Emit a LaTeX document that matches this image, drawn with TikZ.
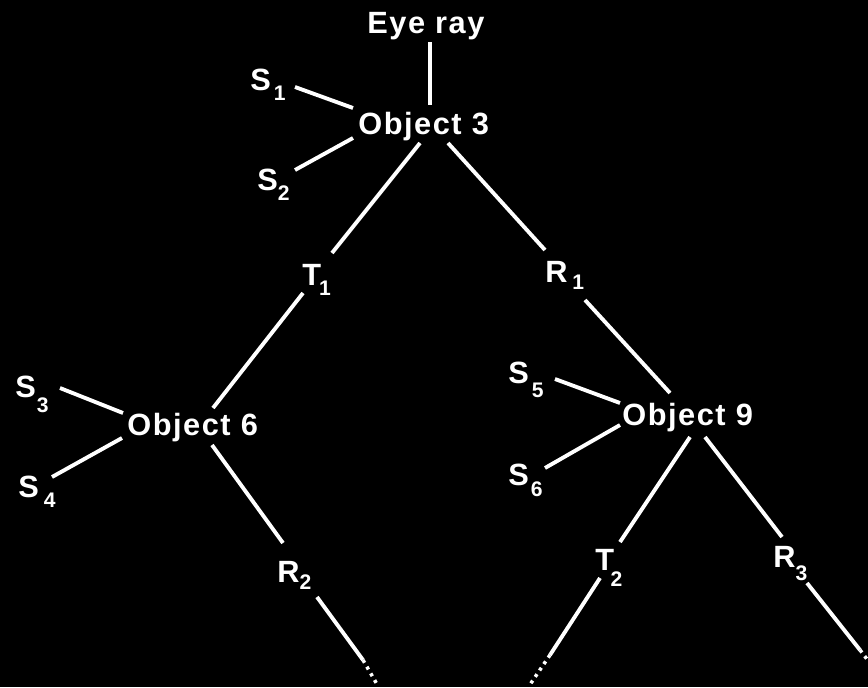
\documentclass[tikz,border=0pt]{standalone}
\usepackage{fontspec}
\newfontfamily\labfam{Liberation Sans}[LetterSpace=5]
\newcommand\subfont{\labfam\bfseries\fontsize{12}{14}\selectfont}
\newcommand\sbx[3]{\kern#1\raisebox{-#2}{\subfont #3}}
\begin{document}
\begin{tikzpicture}[x=0.02cm,y=-0.02cm,
  lab/.style={text=white, inner sep=0pt, anchor=base west,
    font=\labfam\bfseries\fontsize{17.5}{20}\selectfont},
  wire/.style={draw=white, line width=2.2pt},
  tail/.style={draw=white, line width=2pt, dash pattern=on 1.8pt off 2.6pt}]
\fill[black] (0,0) rectangle (868,687);
\useasboundingbox (0,0) rectangle (868,687);
% nodes
\node[lab] (eye) at (367,33) {Eye ray};
\node[lab] (obj3) at (358,134) {Object 3};
\node[lab] (obj6) at (127,435) {Object 6};
\node[lab] (obj9) at (622,425) {Object 9};
\node[lab] (s1) at (250,90) {S\sbx{1.7pt}{5.7pt}{1}};
\node[lab] (s2) at (257,190) {S\sbx{0pt}{5.7pt}{2}};
\node[lab] (s3) at (15,397) {S\sbx{0.6pt}{9pt}{3}};
\node[lab] (s4) at (18,497) {S\sbx{2.8pt}{6.2pt}{4}};
\node[lab] (s5) at (508,383) {S\sbx{1.7pt}{8pt}{5}};
\node[lab] (s6) at (508,485) {S\sbx{1.1pt}{6.8pt}{6}};
\node[lab] (t1) at (302,285) {T\sbx{-1.1pt}{5.7pt}{1}};
\node[lab] (r1) at (545,282) {R\sbx{2.8pt}{4.5pt}{1}};
\node[lab] (r2) at (277,582) {R\sbx{0pt}{4.5pt}{2}};
\node[lab] (t2) at (595,570) {T\sbx{-2pt}{9.5pt}{2}};
\node[lab] (r3) at (773,567) {R\sbx{0pt}{7.4pt}{3}};
% connectors
\draw[wire] ([shift={(63,9)}]eye.base west) -- ([shift={(72,-29)}]obj3.base west);
\draw[wire] ([shift={(45,-3)}]s1.base west) -- ([shift={(-5,-26)}]obj3.base west);
\draw[wire] ([shift={(38,-20)}]s2.base west) -- ([shift={(-5,4)}]obj3.base west);
\draw[wire] ([shift={(62,9)}]obj3.base west) -- ([shift={(30,-32)}]t1.base west);
\draw[wire] ([shift={(90,9)}]obj3.base west) -- ([shift={(0,-32)}]r1.base west);
\draw[wire] ([shift={(1,8)}]t1.base west) -- ([shift={(86,-27)}]obj6.base west);
\draw[wire] ([shift={(40,18)}]r1.base west) -- ([shift={(48,-32)}]obj9.base west);
\draw[wire] ([shift={(45,-9)}]s3.base west) -- ([shift={(-4,-22)}]obj6.base west);
\draw[wire] ([shift={(34,-20)}]s4.base west) -- ([shift={(-5,3)}]obj6.base west);
\draw[wire] ([shift={(47,-4)}]s5.base west) -- ([shift={(-2,-22)}]obj9.base west);
\draw[wire] ([shift={(37,-17)}]s6.base west) -- ([shift={(-2,0)}]obj9.base west);
\draw[wire] ([shift={(85,10)}]obj6.base west) -- ([shift={(6,-39)}]r2.base west);
\draw[wire] ([shift={(68,12)}]obj9.base west) -- ([shift={(25,-28)}]t2.base west);
\draw[wire] ([shift={(83,12)}]obj9.base west) -- ([shift={(9,-30)}]r3.base west);
% continuing rays with dotted tails
\draw[wire] ([shift={(40,15)}]r2.base west) -- ([shift={(86,78)}]r2.base west);
\draw[tail] ([shift={(86,78)}]r2.base west) -- ([shift={(101,104)}]r2.base west);
\draw[wire] ([shift={(5,8)}]t2.base west) -- ([shift={(-45,85)}]t2.base west);
\draw[tail] ([shift={(-45,85)}]t2.base west) -- ([shift={(-66,116)}]t2.base west);
\draw[wire] ([shift={(34,16)}]r3.base west) -- ([shift={(87,83)}]r3.base west);
\draw[tail] ([shift={(87,83)}]r3.base west) -- ([shift={(100,100)}]r3.base west);
\end{tikzpicture}
\end{document}
